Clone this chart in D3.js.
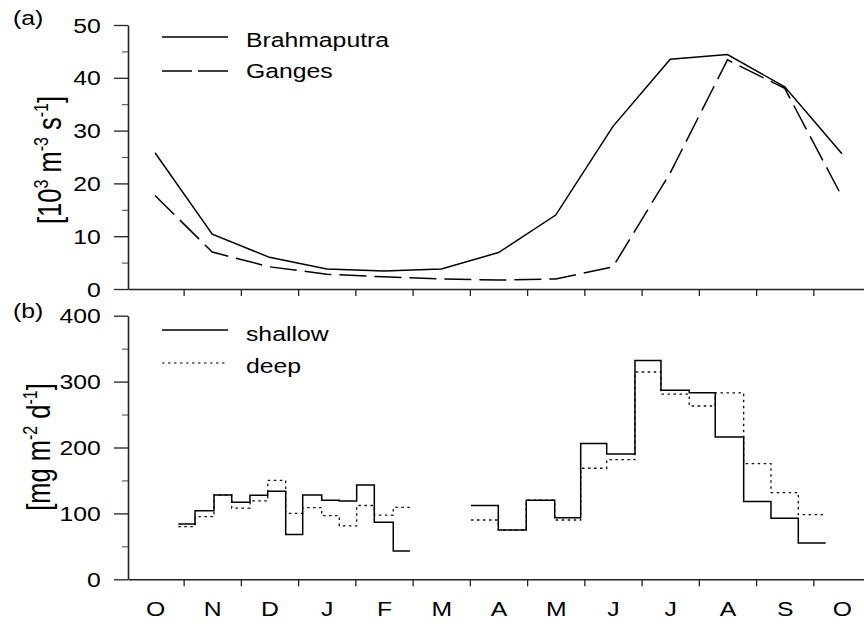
<!DOCTYPE html>
<html>
<head>
<meta charset="utf-8">
<script src="https://cdn.jsdelivr.net/npm/d3@7"></script>
<style>
  body { margin: 0; background: #fff; }
  svg { display: block; font-family: "Liberation Sans", Arial, sans-serif; }
</style>
</head>
<body>
<svg id="chart" width="864" height="628"></svg>
<script>
var months = ["O", "N", "D", "J", "F", "M", "A", "M", "J", "J", "A", "S", "O"];

// (a) river discharge, 10^3 m3/s, one value per month (Oct..Oct)
var brahmaputra = [25.8, 10.4, 6.0, 3.8, 3.4, 3.8, 6.9, 14.0, 30.8, 43.5, 44.4, 38.3, 25.6];
var ganges = [17.7, 7.0, 4.2, 2.8, 2.3, 1.9, 1.7, 1.9, 4.2, 22.0, 43.4, 38.0, 17.5];

// (b) trap fluxes, mg/m2/d. sampling intervals given as month positions (0 = Oct)
var edges1 = [0.407, 0.699, 1.031, 1.340, 1.659, 1.969, 2.283, 2.580, 2.912, 3.219, 3.523, 3.831, 4.162, 4.454];
var shallow1 = [84, 104, 128, 117, 127.5, 133.5, 68, 128, 120, 119, 143, 86.5, 43];
var deep1 = [80, 95, 128, 108, 119, 150, 100, 108.7, 96.5, 81, 112, 97.5, 109];

var edges2 = [5.520, 5.997, 6.485, 6.982, 7.436, 7.890, 8.384, 8.838, 9.332, 9.786, 10.283, 10.760, 11.237, 11.715];
var shallow2 = [112, 75, 120, 93.5, 206, 190, 332, 287, 283, 216, 118, 92.5, 55];
var deep2 = [90, 75, 120, 90, 168.5, 181.5, 314.6, 281, 263, 283, 175.5, 131.5, 98];

var yTicksA = [0, 10, 20, 30, 40, 50];
var yMinorA = [5, 15, 25, 35, 45];
var yTicksB = [0, 100, 200, 300, 400];
var yMinorB = [50, 150, 250, 350];

var SX = 1.27; // glyphs in the original are stretched horizontally
var svg = d3.select("#chart");

var x = d3.scaleLinear().domain([-0.4716, 12.5]).range([128, 870.6]);
var yA = d3.scaleLinear().domain([0, 50]).range([289, 25]);
var yB = d3.scaleLinear().domain([0, 400]).range([579.3, 315.7]);

function styleAxis(g) {
    g.selectAll("path.domain").attr("stroke", "#222").attr("stroke-width", 1.6);
    g.selectAll(".tick line").attr("stroke", "#222").attr("stroke-width", 1.3);
    g.selectAll("text")
        .attr("fill", "#000")
        .style("font-size", "19.5px")
        .style("font-family", "'Liberation Sans', Arial, sans-serif");
}

function stretchedText(px, py, str, anchor) {
    return svg.append("text")
        .attr("transform", "translate(" + px + "," + py + ") scale(" + SX + ",1)")
        .attr("text-anchor", anchor || "start")
        .style("font-size", "19.5px")
        .text(str);
}

function yAxis(scale, major, minor) {
    var gMinor = svg.append("g")
        .attr("transform", "translate(128,0)")
        .call(d3.axisLeft(scale).tickValues(minor).tickSize(6).tickFormat(""));
    gMinor.select("path.domain").remove();
    gMinor.selectAll(".tick line").attr("stroke", "#444").attr("stroke-width", 1);

    var g = svg.append("g")
        .attr("transform", "translate(128,0)")
        .call(d3.axisLeft(scale).tickValues(major).tickSize(14).tickSizeOuter(0));
    styleAxis(g);
    g.selectAll("text")
        .attr("x", -21.5)
        .attr("dy", "0.36em")
        .attr("transform", "scale(" + SX + ",1)");
}

function xAxis(y0) {
    var g = svg.append("g")
        .attr("transform", "translate(0," + y0 + ")")
        .call(d3.axisBottom(x).tickValues(d3.range(0.5, 12, 1)).tickSize(7).tickSizeOuter(0).tickFormat(""));
    styleAxis(g);
    return g;
}

// ---- panel (a)
yAxis(yA, yTicksA, yMinorA);
xAxis(289);

var lineA = d3.line()
    .x(function(d, i) { return x(i); })
    .y(function(d) { return yA(d); });

svg.append("path")
    .datum(ganges)
    .attr("d", lineA)
    .attr("fill", "none")
    .attr("stroke", "#000")
    .attr("stroke-width", 1.5)
    .attr("stroke-dasharray", "27,8");

svg.append("path")
    .datum(brahmaputra)
    .attr("d", lineA)
    .attr("fill", "none")
    .attr("stroke", "#000")
    .attr("stroke-width", 1.5);

// ---- panel (b)
yAxis(yB, yTicksB, yMinorB);
xAxis(579.3);

var gm = svg.append("g")
    .attr("transform", "translate(0,579.3)")
    .call(d3.axisBottom(x).tickValues(d3.range(months.length)).tickSize(0)
        .tickFormat(function(i) { return months[i]; }));
gm.select("path.domain").remove();
styleAxis(gm);
gm.selectAll("text")
    .attr("y", 37)
    .attr("dy", 0)
    .attr("transform", "scale(" + SX + ",1)");

var stepLine = d3.line()
    .curve(d3.curveStepAfter)
    .x(function(d) { return x(d[0]); })
    .y(function(d) { return yB(d[1]); });

function steps(edges, vals) {
    return edges.map(function(e, i) {
        return [e, vals[Math.min(i, vals.length - 1)]];
    });
}

[[edges1, deep1], [edges2, deep2]].forEach(function(s) {
    svg.append("path")
        .datum(steps(s[0], s[1]))
        .attr("d", stepLine)
        .attr("fill", "none")
        .attr("stroke", "#111")
        .attr("stroke-width", 1.3)
        .attr("stroke-dasharray", "2.5,3.5");
});

[[edges1, shallow1], [edges2, shallow2]].forEach(function(s) {
    svg.append("path")
        .datum(steps(s[0], s[1]))
        .attr("d", stepLine)
        .attr("fill", "none")
        .attr("stroke", "#000")
        .attr("stroke-width", 1.5);
});

// ---- legends
function legendLine(y, dash) {
    svg.append("line")
        .attr("x1", 162).attr("x2", 228)
        .attr("y1", y).attr("y2", y)
        .attr("stroke", "#000")
        .attr("stroke-width", dash === "2.5,3.5" ? 1.2 : 1.5)
        .attr("stroke-dasharray", dash || null);
}

legendLine(37);
stretchedText(246, 47, "Brahmaputra");
legendLine(71, "30,6");
stretchedText(246, 78, "Ganges");

legendLine(330);
stretchedText(246, 341, "shallow");
legendLine(363, "2.5,3.5");
stretchedText(246, 373, "deep");

// panel letters
stretchedText(13, 25, "(a)");
stretchedText(13, 318, "(b)");

// ---- axis titles (rotated, superscripts raised with dy)
function axisTitle(px, py, parts) {
    var t = svg.append("text")
        .attr("transform", "translate(" + px + "," + py + ") scale(" + SX + ",1) rotate(-90)")
        .attr("text-anchor", "middle")
        .style("font-size", "25.5px");
    var raised = false;
    parts.forEach(function(p) {
        if (p.sup) {
            t.append("tspan").attr("dy", raised ? 0 : -10).style("font-size", "16px").text(p.sup);
            raised = true;
        } else {
            t.append("tspan").attr("dy", raised ? 10 : 0).text(p.t);
            raised = false;
        }
    });
}

axisTitle(61, 160, [{t: "[10"}, {sup: "3"}, {t: "\u00a0m"}, {sup: "-3"}, {t: "\u00a0s"}, {sup: "-1"}, {t: "]"}]);
axisTitle(50, 447, [{t: "[mg\u00a0m"}, {sup: "-2"}, {t: "\u00a0d"}, {sup: "-1"}, {t: "]"}]);
</script>
</body>
</html>
